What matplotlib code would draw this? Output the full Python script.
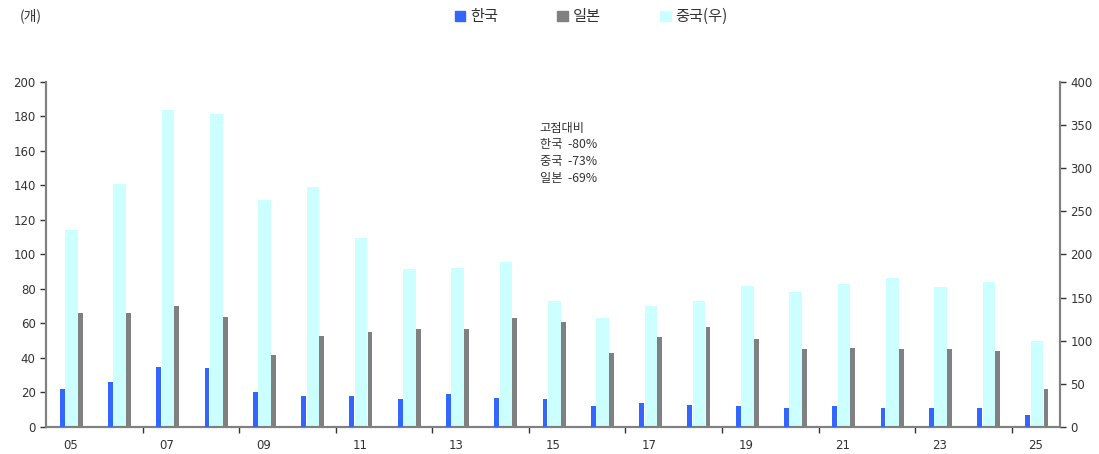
import matplotlib.pyplot as plt
from matplotlib.patches import Patch
import numpy as np

plt.rcParams['font.family'] = ['DejaVu Sans', 'Noto Sans CJK KR']

years = ["05", "06", "07", "08", "09", "10", "11", "12", "13", "14", "15",
         "16", "17", "18", "19", "20", "21", "22", "23", "24", "25"]
korea = [22, 26, 35, 34, 20, 18, 18, 16, 19, 17, 16,
         12, 14, 13, 12, 11, 12, 11, 11, 11, 7]
japan = [66, 66, 70, 64, 42, 53, 55, 57, 57, 63, 61,
         43, 52, 58, 51, 45, 46, 45, 45, 44, 22]
china = [228, 282, 367, 363, 263, 278, 219, 183, 184, 191, 146,
         126, 140, 146, 163, 157, 166, 173, 162, 168, 100]

c_korea = "#3366FF"
c_japan = "#808080"
c_china = "#CCFFFF"
axis_c = "#808080"
text_c = "#333333"
kr = ['Noto Sans CJK KR', 'DejaVu Sans']

fig = plt.figure(figsize=(10.99, 4.54), dpi=100)
ax = fig.add_axes([0.0419, 0.0595, 0.9226, 0.7599])
ax2 = ax.twinx()

x = np.arange(len(years))
ax2.bar(x + 0.027, china, width=0.26, color=c_china, zorder=1)
ax.bar(x - 0.166, korea, width=0.1, color=c_korea, zorder=3)
ax.bar(x + 0.21, japan, width=0.1, color=c_japan, zorder=3)

# korea/japan drawn above the right-axis bars
ax.set_zorder(ax2.get_zorder() + 1)
ax.patch.set_visible(False)

ax.set_xlim(-0.5, len(years) - 0.5)
ax.set_ylim(0, 200)
ax2.set_ylim(0, 400)
ax.set_yticks(range(0, 201, 20))
ax2.set_yticks(range(0, 401, 50))

ax.set_xticks(x[::2])
ax.set_xticklabels(years[::2])
ax.set_xticks(np.arange(1.5, len(years) - 1, 2), minor=True)
ax.tick_params(axis='x', which='major', length=0, pad=9)
ax.tick_params(axis='x', which='minor', length=4, direction='out',
               color=text_c, width=1)

for a in (ax, ax2):
    a.spines['top'].set_visible(False)
    for s in ('left', 'right', 'bottom'):
        a.spines[s].set_color(axis_c)
        a.spines[s].set_linewidth(1.5)
    a.tick_params(axis='y', length=4, color=text_c, width=1,
                  labelsize=8.5, labelcolor=text_c)
    a.tick_params(axis='x', labelsize=8.5, labelcolor=text_c)

fig.text(0.018, 0.965, "(개)", fontsize=10, color=text_c, va='center',
         family=kr)

ax.text(0.487, 0.885,
        "고점대비\n한국  -80%\n중국  -73%\n일본  -69%",
        transform=ax.transAxes, fontsize=8.8, color=text_c,
        va='top', ha='left', linespacing=1.38, family=kr)

handles = [Patch(color=c_korea, label="한국"),
           Patch(color=c_japan, label="일본"),
           Patch(color=c_china, label="중국(우)")]
fig.legend(handles=handles, loc='center', bbox_to_anchor=(0.538, 0.963),
           ncol=3, frameon=False, handlelength=0.7,
           handleheight=0.7, handletextpad=0.3, columnspacing=3.9,
           labelcolor=text_c, prop={'family': kr, 'size': 11})

fig.savefig("out.png", dpi=100)
